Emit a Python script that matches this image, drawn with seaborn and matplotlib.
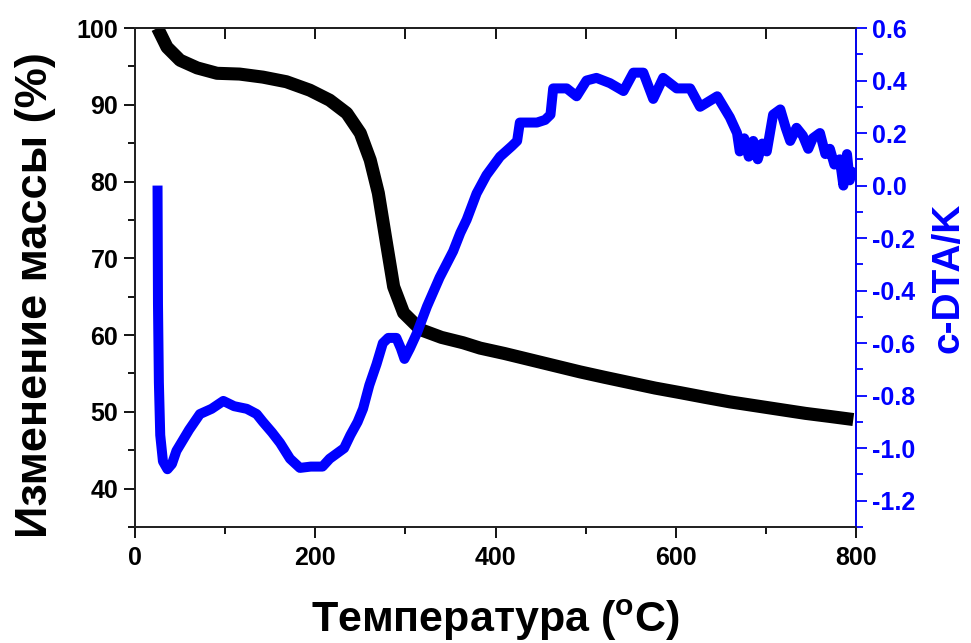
import matplotlib
matplotlib.use("Agg")
import matplotlib.pyplot as plt
import seaborn as sns
from matplotlib.ticker import MultipleLocator

sns.set_theme(style="white")
plt.rcParams["font.family"] = ["Liberation Sans", "DejaVu Sans"]
plt.rcParams["font.weight"] = "bold"
plt.rcParams["mathtext.fontset"] = "custom"
plt.rcParams["mathtext.bf"] = "Liberation Sans:bold"
plt.rcParams["mathtext.rm"] = "Liberation Sans:bold"
for key in ["text.color", "axes.labelcolor", "xtick.color", "ytick.color"]:
    plt.rcParams[key] = "black"

# Mass loss (TG), %
tg_temp = [25, 35.5, 50, 69, 91, 116, 142, 168, 194, 216, 235, 250, 261, 270,
           279, 287, 298, 317, 340, 364, 383, 410, 438, 466, 494, 521, 549,
           577, 605, 632, 660, 688, 716, 744, 771, 797]
tg_mass = [100.0, 97.5, 95.8, 94.8, 94.1, 94.0, 93.6, 93.0, 91.9, 90.6, 88.9,
           86.3, 82.8, 78.5, 72.0, 66.3, 62.9, 60.7, 59.7, 59.0, 58.3, 57.6,
           56.8, 56.0, 55.2, 54.5, 53.8, 53.1, 52.5, 51.9, 51.3, 50.8, 50.3,
           49.8, 49.4, 49.0]

# c-DTA signal, K
dta_temp = [25, 25.5, 26.5, 28, 31, 36, 41, 46, 53, 60, 66, 72, 85, 98, 110,
            124, 135, 142, 152, 161, 172, 183, 195, 208, 216, 224, 232, 239,
            247, 253, 260, 268, 275, 281, 290, 295, 299, 305, 313, 324, 338,
            353, 361, 368, 379, 390, 405, 418, 424, 427, 446, 455, 461, 464,
            479, 490, 501, 512, 527, 542, 553, 564, 575, 586, 601, 616, 627,
            646, 660, 668, 671, 676, 681, 686, 691, 696, 701, 708, 716, 722,
            727, 734, 741, 747, 752, 760, 766, 771, 776, 782, 786, 790, 793,
            797]
dta_val = [0.0, -0.45, -0.75, -0.95, -1.05, -1.08, -1.06, -1.01, -0.97, -0.93,
           -0.90, -0.87, -0.85, -0.82, -0.84, -0.85, -0.87, -0.90, -0.94,
           -0.98, -1.04, -1.075, -1.07, -1.07, -1.04, -1.02, -1.00, -0.95,
           -0.90, -0.85, -0.76, -0.68, -0.60, -0.58, -0.58, -0.62, -0.66,
           -0.62, -0.56, -0.46, -0.35, -0.25, -0.18, -0.13, -0.03, 0.04, 0.11,
           0.15, 0.17, 0.24, 0.24, 0.25, 0.27, 0.37, 0.37, 0.34, 0.40, 0.41,
           0.39, 0.36, 0.43, 0.43, 0.33, 0.41, 0.37, 0.37, 0.30, 0.34, 0.26,
           0.20, 0.13, 0.18, 0.11, 0.17, 0.10, 0.16, 0.13, 0.27, 0.29, 0.22,
           0.17, 0.22, 0.19, 0.14, 0.18, 0.20, 0.12, 0.14, 0.08, 0.10, 0.00,
           0.12, 0.02, 0.07]

x_ticks = [0, 200, 400, 600, 800]
left_ticks = [40, 50, 60, 70, 80, 90, 100]
right_ticks = [-1.2, -1.0, -0.8, -0.6, -0.4, -0.2, 0.0, 0.2, 0.4, 0.6]

fig = plt.figure(figsize=(9.71, 6.43), dpi=100)
ax = fig.add_axes([135 / 971, 1 - 527 / 643, (856 - 135) / 971, (527 - 28) / 643])
ax.set_facecolor("white")

sns.lineplot(x=tg_temp, y=tg_mass, ax=ax, color="black", lw=9.4,
             estimator=None, sort=False, solid_capstyle="butt")
ax.set_xlim(0, 800)
ax.set_ylim(35, 100)
ax.set_xticks(x_ticks)
ax.set_yticks(left_ticks)
ax.xaxis.set_minor_locator(MultipleLocator(100))
ax.yaxis.set_minor_locator(MultipleLocator(5))
ax.tick_params(axis="both", which="major", direction="out", length=8, width=1.3,
               color="black", labelcolor="black", labelsize=18, pad=4)
ax.tick_params(axis="both", which="minor", direction="out", length=5, width=1.3,
               color="black")
ax.tick_params(axis="x", bottom=True, which="both", pad=6)
ax.tick_params(axis="y", left=True, which="both")
for lab in ax.get_xticklabels() + ax.get_yticklabels():
    lab.set_fontweight("bold")
for side in ["left", "bottom", "top"]:
    ax.spines[side].set_color("black")
    ax.spines[side].set_linewidth(1.3)

top = ax.secondary_xaxis("top")
top.set_xticks(x_ticks)
top.xaxis.set_minor_locator(MultipleLocator(100))
top.tick_params(which="both", direction="in", length=8, width=1.3,
                color="black", labeltop=False)
top.spines["top"].set_linewidth(1.3)
top.spines["top"].set_color("black")

ax.set_xlabel(r"Температура ($\mathbf{^o}$C)", fontsize=31, fontweight="bold",
              color="black", labelpad=20)
ax.set_ylabel("Изменение массы (%)", fontsize=32.5, fontweight="bold",
              color="black")
ax.yaxis.set_label_coords(-0.110, 0.465)

ax2 = ax.twinx()
sns.lineplot(x=dta_temp, y=dta_val, ax=ax2, color="#0000ff", lw=7.2,
             estimator=None, sort=False, solid_capstyle="butt")
ax2.set_ylim(-1.3, 0.6)
ax2.set_yticks(right_ticks)
ax2.set_yticklabels([f"{t:.1f}" for t in right_ticks])
ax2.yaxis.set_minor_locator(MultipleLocator(0.1))
ax2.tick_params(axis="y", which="major", direction="out", length=8, width=1.3,
                color="#0000ff", labelcolor="#0000ff", labelsize=18, right=True)
ax2.tick_params(axis="y", which="minor", direction="out", length=5, width=1.3,
                color="#0000ff", right=True)
for lab in ax2.get_yticklabels():
    lab.set_fontweight("bold")
ax2.spines["right"].set_color("#0000ff")
ax2.spines["right"].set_linewidth(1.3)
ax2.set_ylabel("c-DTA/K", fontsize=28, fontweight="bold", color="#0000ff",
               labelpad=11)
ax2.grid(False)
ax.grid(False)

fig.savefig("out.png", dpi=100, facecolor="white")
